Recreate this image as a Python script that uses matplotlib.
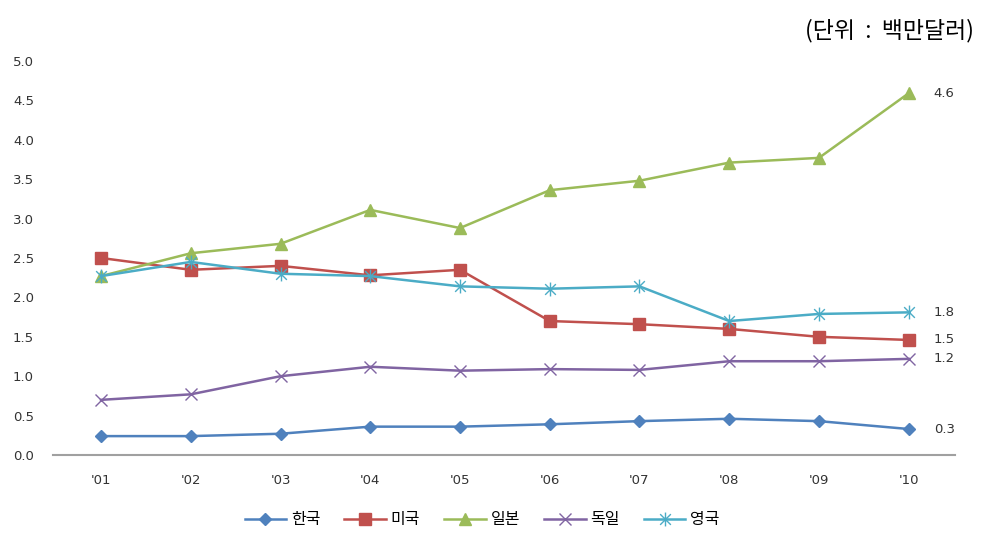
import numpy as np
import matplotlib
matplotlib.use('Agg')
from matplotlib import pyplot as plt
from matplotlib.path import Path

plt.rcParams['font.family'] = ['Noto Sans CJK KR', 'DejaVu Sans']

years = ["'01", "'02", "'03", "'04", "'05", "'06", "'07", "'08", "'09", "'10"]
names = ['한국', '미국', '일본', '독일', '영국']
korea = [0.24, 0.24, 0.27, 0.36, 0.36, 0.39, 0.43, 0.46, 0.43, 0.33]
usa = [2.50, 2.35, 2.40, 2.28, 2.35, 1.70, 1.66, 1.60, 1.50, 1.46]
japan = [2.27, 2.56, 2.68, 3.11, 2.88, 3.36, 3.48, 3.71, 3.77, 4.59]
germany = [0.70, 0.77, 1.00, 1.12, 1.07, 1.09, 1.08, 1.19, 1.19, 1.22]
uk = [2.27, 2.45, 2.30, 2.27, 2.14, 2.11, 2.14, 1.70, 1.79, 1.81]
end_labels = ['0.3', '1.5', '4.6', '1.2', '1.8']

# excel-like star: x with a vertical bar
star = Path([(-1, -1), (1, 1), (-1, 1), (1, -1), (0, -1.3), (0, 1.3)],
            [Path.MOVETO, Path.LINETO, Path.MOVETO, Path.LINETO, Path.MOVETO, Path.LINETO])

series = [korea, usa, japan, germany, uk]
colors = ['#4F81BD', '#C0504D', '#9BBB59', '#8064A2', '#4BACC6']
markers = ['D', 's', '^', 'x', star]
msizes = [6.5, 9, 8.5, 9, 10]

fig = plt.figure(figsize=(9.9, 5.59), dpi=100)
ax = fig.add_axes([0.054, 0.186, 0.911, 0.705])

x = np.arange(len(years))
for i, (vals, name, c, m, ms) in enumerate(zip(series, names, colors, markers, msizes)):
    ax.plot(x, vals, color=c, lw=1.8, marker=m, markersize=ms,
            markerfacecolor=c if i < 3 else 'none',
            markeredgewidth=1 if i < 3 else 1.0, label=name)

for vals, lab in zip(series, end_labels):
    ax.annotate(lab, (x[-1], vals[-1]), xytext=(18, 0), textcoords='offset points',
                va='center', ha='left', fontsize=9.5, color='#333333',
                family='DejaVu Sans')

ax.set_xlim(-0.53, 9.52)
ax.set_ylim(0, 5.0)
ax.set_yticks(np.arange(0, 5.01, 0.5))
ax.set_yticklabels(['%.1f' % v for v in np.arange(0, 5.01, 0.5)])
ax.set_xticks(x)
ax.set_xticklabels(years)
ax.tick_params(axis='both', length=0, labelsize=9.5, labelcolor='#333333')
ax.tick_params(axis='y', pad=14)
ax.tick_params(axis='x', pad=14)
for lab in ax.get_xticklabels() + ax.get_yticklabels():
    lab.set_family('DejaVu Sans')

for s in ['top', 'right', 'left']:
    ax.spines[s].set_visible(False)
ax.spines['bottom'].set_color('#A0A0A0')
ax.spines['bottom'].set_linewidth(1.5)

fig.text(0.984, 0.945, '(단위  :  백만달러)', ha='right', va='center', fontsize=16.5)

fig.legend(loc='center', bbox_to_anchor=(0.487, 0.07), ncol=5, frameon=False,
           fontsize=11.5, handlelength=2.6, columnspacing=1.5, handletextpad=0.3)

plt.savefig('out.png')
